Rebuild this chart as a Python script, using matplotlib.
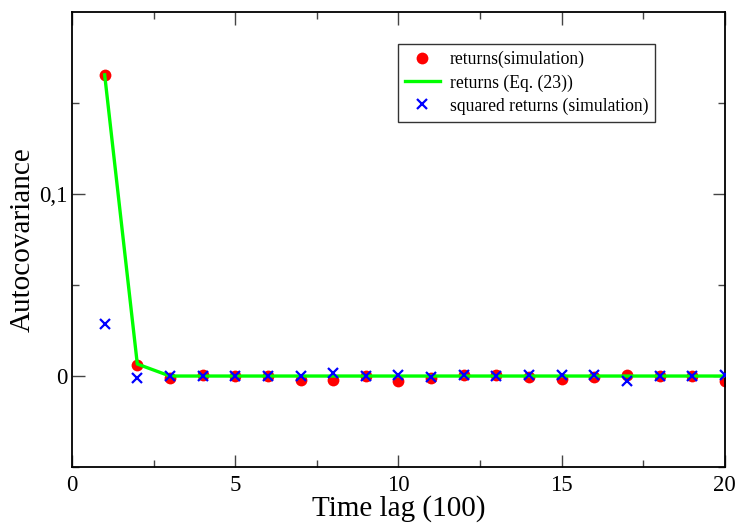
import matplotlib
matplotlib.use("Agg")
import matplotlib.pyplot as plt
from matplotlib.ticker import FixedLocator, FuncFormatter, MultipleLocator

lags = list(range(1, 21))
returns_sim = [0.1656, 0.0060, -0.0010, 0.0003, 0.0000, 0.0000, -0.0020, -0.0020, 0.0000, -0.0025,
               -0.0010, 0.0005, 0.0003, -0.0004, -0.0015, -0.0005, 0.0004, 0.0000, 0.0000, -0.0025]
returns_eq = [0.1656, 0.0066, 0.0, 0.0, 0.0, 0.0, 0.0, 0.0, 0.0, 0.0,
              0.0, 0.0, 0.0, 0.0, 0.0, 0.0, 0.0, 0.0, 0.0, 0.0]
squared_sim = [0.0284, -0.0012, 0.0000, 0.0000, -0.0001, 0.0000, 0.0000, 0.0015, 0.0000, 0.0003,
               -0.0008, 0.0003, -0.0001, 0.0005, 0.0003, 0.0004, -0.0030, 0.0000, 0.0000, 0.0007]

plt.rcParams["font.family"] = ["Liberation Serif", "DejaVu Serif"]

fig = plt.figure(figsize=(7.41, 5.30), dpi=100)
ax = fig.add_axes([0.0972, 0.1189, 0.881, 0.858])

ax.plot(lags, returns_sim, "o", color="red", markersize=8.5, markeredgewidth=0,
        label="returns(simulation)", zorder=2)
ax.plot(lags, returns_eq, "-", color="#00ff00", linewidth=2.4,
        label="returns (Eq. (23))", zorder=3)
ax.plot(lags, squared_sim, "x", color="blue", markersize=7, markeredgewidth=1.6,
        label="squared returns (simulation)", zorder=4)

ax.set_xlim(0, 20)
ax.set_ylim(-0.05, 0.2)
ax.xaxis.set_major_locator(MultipleLocator(5))
ax.xaxis.set_minor_locator(MultipleLocator(2.5))
ax.yaxis.set_major_locator(FixedLocator([0.0, 0.1]))
ax.yaxis.set_minor_locator(FixedLocator([-0.05, 0.05, 0.15]))
ax.yaxis.set_major_formatter(FuncFormatter(lambda v, p: "0" if abs(v) < 1e-9 else f"{v:g}".replace(".", ",")))

ax.tick_params(which="both", direction="in", top=True, right=True, labelsize=16.5, colors="#444444",
               labelcolor="black")
ax.tick_params(which="major", length=9, width=1.0)
ax.tick_params(which="minor", length=5, width=1.0)
ax.tick_params(axis="x", pad=6)
for s in ax.spines.values():
    s.set_linewidth(1.3)

ax.set_xlabel("Time lag (100)", fontsize=21, labelpad=-1)
ax.set_ylabel("Autocovariance", fontsize=21, labelpad=2)

leg = ax.legend(loc="upper left", bbox_to_anchor=(0.499, 0.930), borderaxespad=0, fontsize=12.7,
                fancybox=False, edgecolor="#333333", framealpha=1, handlelength=2.0,
                borderpad=0.4, labelspacing=0.33, handletextpad=0.55)
leg.get_frame().set_linewidth(1.0)

plt.savefig("out.png", dpi=100)
plt.close()
